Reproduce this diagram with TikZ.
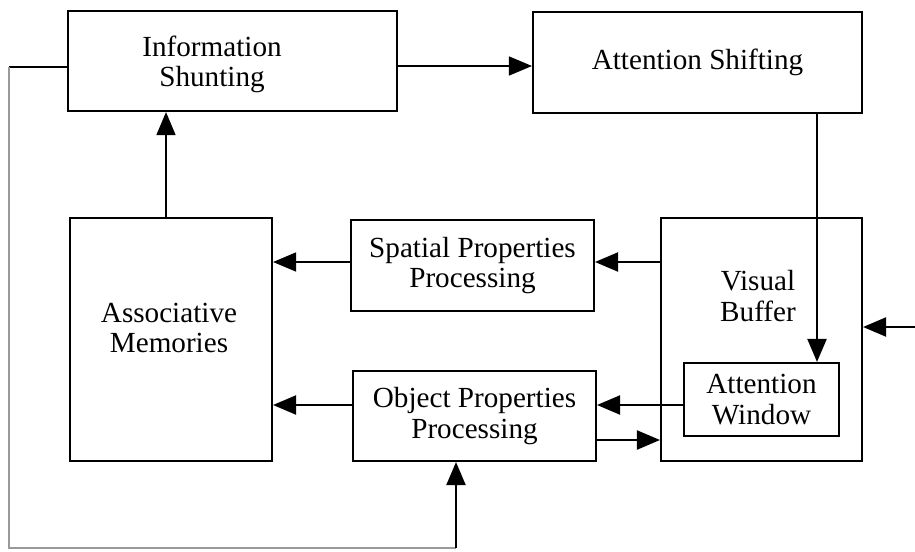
\documentclass[tikz,border=0pt]{standalone}
\usepackage{fontspec}
\setmainfont{Liberation Serif}
\usetikzlibrary{arrows.meta}

\tikzset{
	blk/.style={draw,line width=1.2pt,align=center,inner sep=0pt,
		font=\fontsize{16.6}{17.2}\selectfont},
	txt/.style={align=center,inner sep=0pt,font=\fontsize{16.6}{17.2}\selectfont},
	arr/.style={-{Triangle[length=.46cm,width=.38cm]},line width=1.2pt},
	loopline/.style={gray!80,line width=.8pt},
}

\begin{document}
\begin{tikzpicture}[x={(.02cm,0)},y={(0,-.02cm)}]
\useasboundingbox (0,0) rectangle (915,551);

% top row
\node[blk,minimum width=6.58cm,minimum height=2cm] (shunt) at (232.5,61) {};
\node[txt] (shunttext) at (212,64) {Information\\Shunting};
\node[blk,minimum width=6.58cm,minimum height=2.02cm] (shift) at (697.5,62.5) {Attention Shifting};

% middle row
\node[blk,minimum width=4.04cm,minimum height=4.86cm] (assoc) at (171,339.5) {};
\node[txt] (assoctext) at (169,328) {Associative\\Memories};
\node[blk,minimum width=4.86cm,minimum height=1.82cm] (spatial) at (472.5,265.5) {Spatial Properties\\Processing};
\node[blk,minimum width=4.86cm,minimum height=1.8cm] (object) at (474.5,416) {Object Properties\\Processing};
\node[blk,minimum width=4.02cm,minimum height=4.86cm] (buf) at (761.5,339.5) {};
\node[txt] (buftext) at (758,296) {Visual\\Buffer};
\node[blk,minimum width=3.1cm,minimum height=1.46cm] (win) at (761.5,399.5) {Attention\\Window};

\coordinate (ext) at (915,327);
\coordinate (corner) at (9,67);
\coordinate (loop) at (9,548);

% connectors
\draw[arr,line width=.8pt] (shunt.east |- 0,66) -- (shift.west |- 0,66);
\draw[arr] (shift.south -| 817,0) -- (win.north -| 817,0);
\draw[arr,line width=.8pt] (assoc.north -| 166,0) -- (shunt.south -| 166,0);
\draw[arr] (buf.west |- 0,262) -- (spatial.east |- 0,262);
\draw[arr,line width=.8pt] (spatial.west |- 0,262) -- (assoc.east |- 0,262);
\draw[arr] (win.west |- 0,405) -- (object.east |- 0,405);
\draw[arr] (object.west |- 0,405) -- (assoc.east |- 0,405);
\draw[arr] (object.east |- 0,440) -- (buf.west |- 0,440);
\draw[arr] (ext) -- (ext -| buf.east);

% feedback loop
\draw[line width=1.2pt] (shunt.west |- corner) -- (corner);
\draw[loopline] (corner) -- (loop) -- (loop -| 456,0);
\draw[arr] (loop -| 456,0) -- (object.south -| 456,0);

\end{tikzpicture}
\end{document}
